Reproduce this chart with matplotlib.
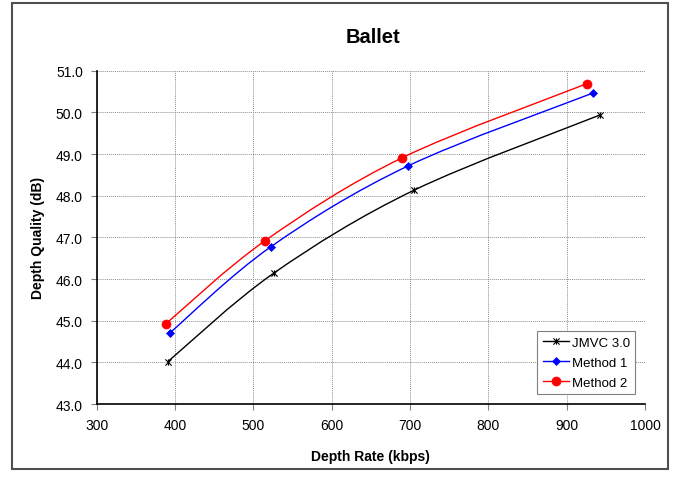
import matplotlib

matplotlib.use("Agg")
import matplotlib.pyplot as plt
from matplotlib.path import Path
from matplotlib.patches import PathPatch, Rectangle
from matplotlib.lines import Line2D

plt.rcParams["font.family"] = ["Liberation Sans", "DejaVu Sans"]

# data
jmvc_rate = [391, 526, 705, 943]
jmvc_psnr = [44.02, 46.14, 48.13, 49.94]
m1_rate = [393, 522, 697, 933]
m1_psnr = [44.70, 46.77, 48.71, 50.46]
m2_rate = [388, 515, 690, 926]
m2_psnr = [44.92, 46.92, 48.91, 50.69]

x_ticks = [300, 400, 500, 600, 700, 800, 900, 1000]
y_ticks = [43.0, 44.0, 45.0, 46.0, 47.0, 48.0, 49.0, 50.0, 51.0]

# Excel "star" marker: an x with a vertical bar
star = Path(
    [(-1, -1), (1, 1), (-1, 1), (1, -1), (0, -1), (0, 1)],
    [Path.MOVETO, Path.LINETO, Path.MOVETO, Path.LINETO, Path.MOVETO, Path.LINETO],
)


def smooth_path(xs, ys):
    """Bezier path through the points, Excel-style smoothed line."""
    pts = list(zip(xs, ys))
    ext = [pts[0]] + pts + [pts[-1]]
    verts = [pts[0]]
    codes = [Path.MOVETO]
    for i in range(1, len(ext) - 2):
        p0, p1, p2, p3 = ext[i - 1], ext[i], ext[i + 1], ext[i + 2]
        c1 = (p1[0] + (p2[0] - p0[0]) / 6, p1[1] + (p2[1] - p0[1]) / 6)
        c2 = (p2[0] - (p3[0] - p1[0]) / 6, p2[1] - (p3[1] - p1[1]) / 6)
        verts += [c1, c2, p2]
        codes += [Path.CURVE4] * 3
    return Path(verts, codes)


fig = plt.figure(figsize=(6.84, 4.81), dpi=100)
ax = fig.add_axes([0.1414, 0.158, 0.8016, 0.693])

series = [
    ("JMVC 3.0", jmvc_rate, jmvc_psnr, "black", star, 4.5, 0.8),
    ("Method 1", m1_rate, m1_psnr, "blue", "D", 4.5, 0.5),
    ("Method 2", m2_rate, m2_psnr, "red", "o", 6.5, 0.5),
]
handles = []
for label, xs, ys, color, marker, ms, mew in series:
    ax.add_patch(PathPatch(smooth_path(xs, ys), facecolor="none",
                           edgecolor=color, lw=1.0, zorder=3))
    ax.plot(xs, ys, linestyle="none", marker=marker, color=color, ms=ms,
            mec=color, mew=mew, zorder=4)
    handles.append(Line2D([], [], color=color, lw=1.0, marker=marker, ms=ms,
                          mec=color, mew=mew, label=label))

ax.set_xlim(300, 1000)
ax.set_ylim(43, 51)
ax.set_xticks(x_ticks)
ax.set_yticks(y_ticks)
ax.set_yticklabels([f"{v:.1f}" for v in y_ticks])
ax.tick_params(direction="out", length=4, width=0.8, color="#808080",
               labelsize=10, pad=6)
ax.grid(True, color="#909090", linestyle=(0, (1, 1)), lw=0.7)
ax.set_axisbelow(True)
for side in ("top", "right"):
    ax.spines[side].set_visible(False)
for side in ("left", "bottom"):
    ax.spines[side].set_linewidth(1.2)

ax.set_xlabel("Depth Rate (kbps)", fontsize=10, fontweight="bold", labelpad=12)
ax.set_ylabel("Depth Quality (dB)", fontsize=10, fontweight="bold", labelpad=8)
fig.text(0.545, 0.922, "Ballet", fontsize=14.5, fontweight="bold",
         ha="center", va="center")

leg = ax.legend(handles=handles, loc="lower right", fontsize=9.5,
                fancybox=False, edgecolor="#808080", framealpha=1,
                handlelength=2.0, handletextpad=0.2, borderaxespad=0.75,
                labelspacing=0.6)
leg.get_frame().set_linewidth(0.8)

fig.patches.append(Rectangle((12 / 684, 11 / 481), 656 / 684, 466 / 481,
                             transform=fig.transFigure, fill=False,
                             edgecolor="#505050", lw=1.5))

fig.savefig("out.png", dpi=100)
